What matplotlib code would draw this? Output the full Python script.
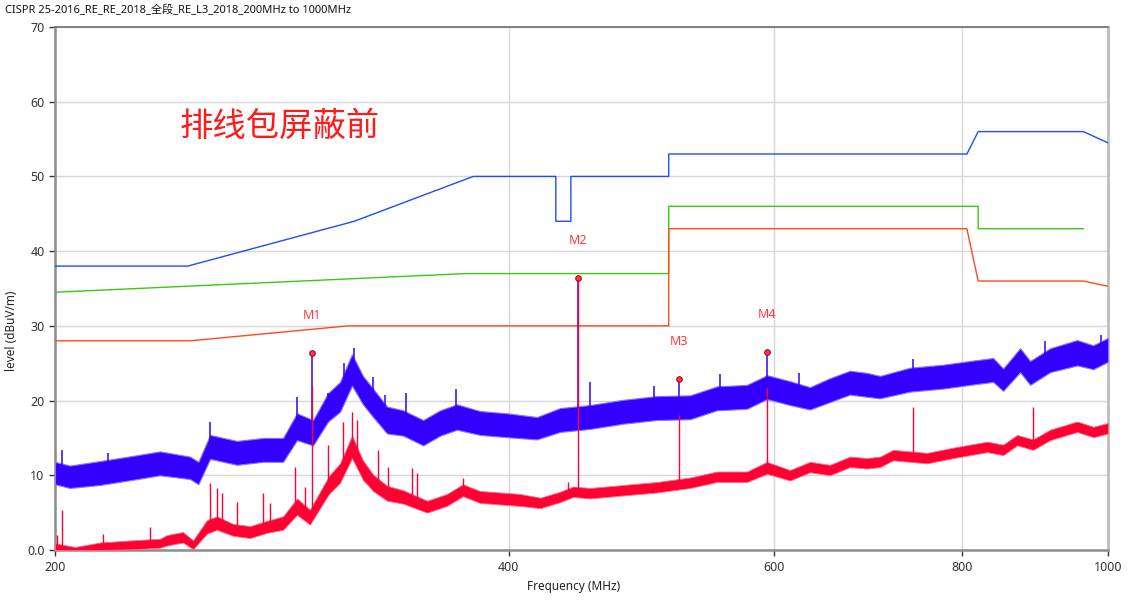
import numpy as np
import matplotlib
matplotlib.use("Agg")
import matplotlib.pyplot as plt
from matplotlib.ticker import FixedLocator, FixedFormatter, NullLocator

plt.rcParams["font.family"] = ["Noto Sans", "Noto Sans CJK SC", "DejaVu Sans"]

# limit lines (MHz, dBuV/m)
peak_limit_freq = [200, 245, 316, 379, 430, 430, 440, 440, 511, 511, 806, 820, 963, 1000]
peak_limit_level = [38, 38, 44, 50, 50, 44, 44, 50, 50, 53, 53, 56, 56, 54.5]
qp_limit_freq = [200, 375, 511, 511, 820, 820, 963]
qp_limit_level = [34.5, 37, 37, 46, 46, 43, 43]
avg_limit_freq = [200, 246, 313, 511, 511, 806, 820, 963, 1000]
avg_limit_level = [28, 28, 30, 30, 43, 43, 36, 36, 35.3]

# peak trace, read as a band (low / high edge)
blue_freq = [200, 204.6, 214.2, 225.3, 234.8, 245.8, 249, 253.5, 264.1, 274.9, 283.4,
             289.5, 296.7, 303.6, 309.2, 314.9, 320.2, 325.2, 332.2, 340.5, 351.1, 360.3,
             369.7, 382.9, 399.1, 417.8, 432.8, 453.0, 476.5, 501.9, 527.9, 550.1, 575.9,
             593.8, 615.0, 634.1, 653.8, 674.1, 691.9, 705.8, 738.9, 777.2, 810.0, 838.9,
             851.9, 874.3, 887.8, 915.3, 953.9, 977.7, 1000]
blue_lo = [8.8, 8.3, 8.7, 9.4, 10.0, 9.5, 8.8, 12.2, 11.4, 11.8, 11.8, 14.7, 14.0, 17.2,
           18.5, 22.0, 19.5, 17.8, 15.6, 15.3, 14.0, 15.3, 16.1, 15.4, 15.1, 14.8, 15.8,
           16.2, 16.9, 17.4, 17.5, 18.7, 18.9, 20.2, 19.4, 18.8, 19.8, 20.8, 20.5, 20.3,
           21.2, 21.6, 22.1, 22.5, 21.3, 23.8, 22.1, 23.8, 24.7, 24.2, 25.2]
blue_hi = [11.8, 11.3, 11.9, 12.6, 13.2, 12.5, 11.8, 15.4, 14.6, 15.0, 15.0, 18.3, 17.4,
           21.0, 22.5, 26.2, 23.3, 21.6, 19.2, 18.7, 17.4, 18.7, 19.5, 18.6, 18.3, 17.8,
           19.0, 19.4, 20.1, 20.6, 20.7, 21.9, 22.1, 23.4, 22.6, 21.8, 23.0, 24.0, 23.7,
           23.3, 24.4, 24.8, 25.3, 25.7, 24.3, 27.0, 25.3, 27.0, 28.1, 27.4, 28.4]

# average trace band
red_freq = [200, 206.2, 214.2, 225.3, 234.8, 237.3, 243.2, 247.0, 252.3, 256.2, 262.5,
            269.5, 276.5, 283.4, 289.5, 295.3, 299.9, 304.0, 309.2, 314.9, 320.2, 325.2,
            332.2, 340.5, 353.2, 364.1, 373.1, 382.9, 394.8, 407.1, 419.9, 432.8, 441.6,
            453.0, 476.5, 501.9, 527.9, 550.1, 575.9, 593.8, 615.0, 634.1, 653.8, 674.1,
            691.9, 705.8, 720.0, 758.4, 789.2, 831.3, 851.9, 870.3, 891.8, 915.3, 953.9,
            977.7, 1000]
red_lo = [0.0, 0.0, 0.0, 0.1, 0.3, 0.6, 1.0, 0.1, 2.2, 2.7, 1.9, 1.6, 2.3, 2.7, 4.7, 3.4,
          5.6, 7.5, 9.0, 12.3, 9.4, 7.9, 6.6, 6.2, 5.0, 5.9, 7.2, 6.3, 6.1, 5.9, 5.6, 6.4,
          7.1, 6.9, 7.3, 7.7, 8.3, 9.1, 9.1, 10.2, 9.3, 10.4, 10.0, 11.1, 10.9, 11.1, 12.0,
          11.6, 12.3, 13.1, 12.7, 14.0, 13.4, 14.7, 15.8, 15.1, 15.6]
red_hi = [0.9, 0.4, 1.0, 1.3, 1.5, 2.0, 2.4, 1.3, 4.0, 4.5, 3.5, 3.2, 3.9, 4.5, 6.9, 5.4,
          7.8, 9.9, 11.6, 15.3, 12.0, 10.1, 8.6, 8.0, 6.6, 7.5, 8.8, 7.9, 7.7, 7.5, 7.0,
          7.8, 8.5, 8.3, 8.7, 9.1, 9.7, 10.5, 10.5, 11.8, 10.7, 11.8, 11.4, 12.5, 12.3,
          12.5, 13.4, 13.0, 13.7, 14.5, 14.1, 15.4, 14.8, 16.1, 17.2, 16.5, 17.0]

# narrow spikes above the bands
blue_spike_freq = [202.1, 217.0, 253.5, 289.5, 296.2, 303.6, 311.0, 316.0, 325.0, 331.0,
                   342.0, 369.0, 444.8, 453.0, 500.0, 519.1, 553.0, 593.8, 624.0, 742.2,
                   908.0, 990.0]
blue_spike_top = [13.4, 13.0, 17.1, 20.5, 26.4, 21.0, 25.0, 27.0, 23.2, 20.7, 21.0, 21.5,
                  36.4, 22.5, 22.0, 22.9, 23.5, 26.5, 23.7, 25.6, 28.0, 28.8]
red_spike_freq = [200.6, 202.1, 215.2, 231.3, 253.5, 256.2, 258.2, 264.1, 274.9, 277.8,
                  288.6, 293.1, 296.2, 303.6, 310.6, 314.9, 317.3, 327.6, 332.7, 345.3,
                  347.9, 373.1, 438.1, 444.8, 519.1, 593.8, 742.2, 891.8]
red_spike_top = [2.0, 5.4, 2.2, 3.1, 9.0, 8.3, 7.6, 6.4, 7.6, 6.3, 11.1, 8.4, 21.9, 14.1,
                 17.1, 18.5, 17.4, 13.4, 11.1, 11.0, 10.3, 9.6, 9.1, 36.4, 18.1, 21.8,
                 19.1, 19.1]

marker_names = ["M1", "M2", "M3", "M4"]
marker_freq = [296.2, 444.8, 519.1, 593.8]
marker_level = [26.4, 36.4, 22.9, 26.5]

x_ticks = [200, 400, 600, 800, 1000]
y_ticks = [0, 10, 20, 30, 40, 50, 60, 70]
y_tick_labels = ["0.0", "10", "20", "30", "40", "50", "60", "70"]

blue_trace = "#3300FF"
red_trace = "#FF0033"

figure = plt.figure(figsize=(11.44, 6.0), dpi=100)
axis = figure.add_axes([55 / 1144, 50 / 600, 1053 / 1144, 523 / 600])
axis.set_xscale("log")
axis.set_xlim(200, 1000)
axis.set_ylim(0, 70)

axis.grid(True, color="#D6D6D6", linewidth=1.0)
axis.set_axisbelow(True)

axis.plot(peak_limit_freq, peak_limit_level, color="#1E4BFF", linewidth=1.0, zorder=3)
axis.plot(qp_limit_freq, qp_limit_level, color="#3CC814", linewidth=1.0, zorder=3)
axis.plot(avg_limit_freq, avg_limit_level, color="#FF4A1C", linewidth=1.0, zorder=3)

# peak trace
axis.fill_between(blue_freq, blue_lo, blue_hi, color=blue_trace, linewidth=0.8,
                  edgecolor="#8A70FF", zorder=4)
blue_mid = (np.array(blue_lo) + np.array(blue_hi)) / 2
blue_base = np.interp(blue_spike_freq, blue_freq, blue_mid)
axis.vlines(blue_spike_freq, blue_base, blue_spike_top, color=blue_trace,
            linewidth=1.1, zorder=4)

# average trace
axis.fill_between(red_freq, red_lo, red_hi, color=red_trace, linewidth=0.6,
                  edgecolor="#FF6A88", zorder=5)
red_mid = (np.array(red_lo) + np.array(red_hi)) / 2
red_base = np.interp(red_spike_freq, red_freq, red_mid)
axis.vlines(red_spike_freq, red_base, red_spike_top, color=red_trace,
            linewidth=1.0, zorder=5)

# markers
axis.scatter(marker_freq, marker_level, s=16, color="#FF3B3B", edgecolor="#B00020",
             linewidth=0.8, zorder=6)
for name, freq, level in zip(marker_names, marker_freq, marker_level):
    axis.annotate(name, (freq, level), xytext=(0, 27), textcoords="offset points",
                  ha="center", va="center", color="#FF3B3B", fontsize=9)

axis.text(0.118, 0.809, "排线包屏蔽前", transform=axis.transAxes, ha="left",
          va="center", color="#FF1A1A", fontsize=24,
          family=["Noto Sans CJK SC", "DejaVu Sans"])

axis.xaxis.set_major_locator(FixedLocator(x_ticks))
axis.xaxis.set_major_formatter(FixedFormatter([str(t) for t in x_ticks]))
axis.xaxis.set_minor_locator(NullLocator())
axis.yaxis.set_major_locator(FixedLocator(y_ticks))
axis.yaxis.set_major_formatter(FixedFormatter(y_tick_labels))
axis.tick_params(axis="both", labelsize=9, colors="#333333", length=4, width=1,
                 direction="out")
axis.tick_params(axis="x", pad=4)

for side in ["left", "bottom"]:
    axis.spines[side].set_color("#8C8C8C")
    axis.spines[side].set_linewidth(1.8)
axis.spines["top"].set_color("#707070")
axis.spines["top"].set_linewidth(1.2)
axis.spines["right"].set_color("#BDBDBD")
axis.spines["right"].set_linewidth(2.0)

axis.set_xlabel("Frequency (MHz)", fontsize=8.5, color="#222222")
axis.xaxis.set_label_coords(0.492, -0.058)
axis.set_ylabel("level (dBuV/m)", fontsize=8.5, color="#222222")
axis.yaxis.set_label_coords(-0.035, 0.419)

figure.text(0.004, 0.983, "CISPR 25-2016_RE_RE_2018_全段_RE_L3_2018_200MHz to 1000MHz",
            ha="left", va="center", fontsize=8, color="#111111",
            family=["Noto Sans", "Noto Sans CJK SC"])

figure.savefig("out.png", dpi=100)
plt.close(figure)
